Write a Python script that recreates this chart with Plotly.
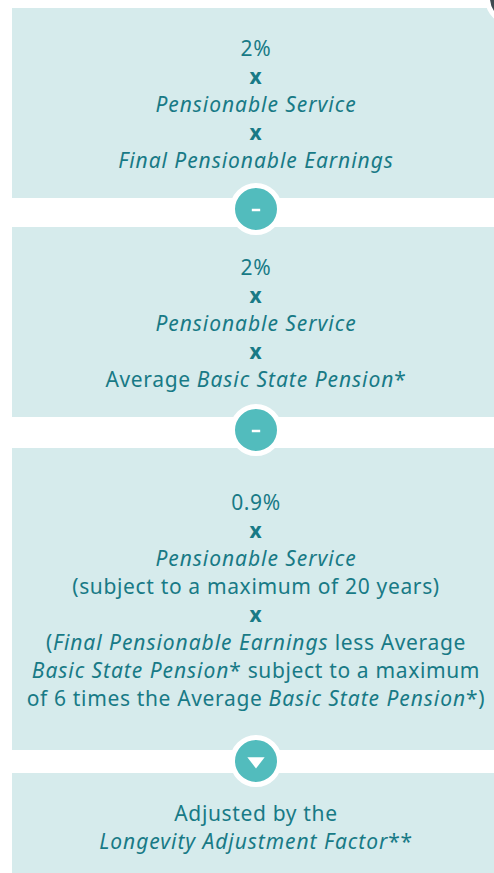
import plotly.graph_objects as go

WIDTH, HEIGHT = 494, 873
box_left = [12, 12, 12, 12]
box_right = [494, 494, 494, 494]
box_top = [8, 227, 448, 773]
box_bottom = [198, 417, 750, 873]

text_lines = [
    "2%", "<b>x</b>", "<i>Pensionable Service</i>", "<b>x</b>", "<i>Final Pensionable Earnings</i>",
    "2%", "<b>x</b>", "<i>Pensionable Service</i>", "<b>x</b>", "Average <i>Basic State Pension</i>*",
    "0.9%", "<b>x</b>", "<i>Pensionable Service</i>", "(subject to a maximum of 20 years)", "<b>x</b>",
    "(<i>Final Pensionable Earnings</i> less Average",
    "<i>Basic State Pension</i>* subject to a maximum",
    "of 6 times the Average <i>Basic State Pension</i>*)",
    "Adjusted by the", "<i>Longevity Adjustment Factor</i>**",
]
text_y = [51, 79, 107, 135, 163,
          270, 298, 326, 354, 382,
          505, 533, 561, 589, 617, 645, 673, 701,
          816, 844]
text_x = [256] * len(text_lines)

badge_x = [256, 256, 256]
badge_y = [209, 430, 761]
minus_x = [256, 256]
minus_y = [210, 431]
arrow_x = [256]
arrow_y = [761]
corner_cx = 513
corner_cy = -2
corner_r = 25.5

BOX = "#d6ebec"
INK = "#187a86"
TEAL = "#52bcbd"
DARK = "#3f4a50"
FONT = "Noto Sans"

fig = go.Figure()
for l, r, t, b in zip(box_left, box_right, box_top, box_bottom):
    fig.add_shape(type="rect", x0=l, x1=r, y0=t, y1=b, fillcolor=BOX, line_width=0, layer="below")
fig.add_shape(type="circle", x0=corner_cx - corner_r, x1=corner_cx + corner_r,
              y0=corner_cy - corner_r, y1=corner_cy + corner_r,
              fillcolor=DARK, line=dict(color="white", width=5))

fig.add_trace(go.Scatter(x=text_x, y=text_y, mode="text", text=text_lines,
                         textposition="middle center",
                         textfont=dict(family=FONT, size=21, color=INK), hoverinfo="skip"))
fig.add_trace(go.Scatter(x=badge_x, y=badge_y, mode="markers", hoverinfo="skip",
                         marker=dict(size=47, color=TEAL, line=dict(color="white", width=5))))
fig.add_trace(go.Scatter(x=minus_x, y=minus_y, mode="markers", hoverinfo="skip",
                         marker=dict(symbol="line-ew", size=6, line=dict(color="white", width=2.5))))
fig.add_trace(go.Scatter(x=arrow_x, y=arrow_y, mode="markers", hoverinfo="skip",
                         marker=dict(symbol="triangle-down", size=15, color="white", line_width=0)))

fig.update_layout(width=WIDTH, height=HEIGHT, margin=dict(l=0, r=0, t=0, b=0),
                  paper_bgcolor="white", plot_bgcolor="white", showlegend=False,
                  xaxis=dict(range=[0, WIDTH], visible=False, fixedrange=True),
                  yaxis=dict(range=[HEIGHT, 0], visible=False, fixedrange=True))
fig.write_html("out.html", config={"displayModeBar": False},
               post_script="document.body.style.margin='0';document.documentElement.style.overflow='hidden';"
                           "document.querySelectorAll('.textpoint text').forEach(function(t){t.style.letterSpacing='0.65px';});"
                           "document.querySelectorAll('.textpoint tspan').forEach(function(t){if(t.style.fontStyle==='italic'){t.style.letterSpacing='0.95px';}});")
